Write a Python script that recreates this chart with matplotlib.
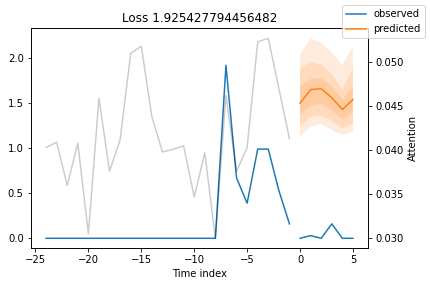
import numpy as np
import matplotlib
matplotlib.use("Agg")
import matplotlib.pyplot as plt

# encoder (history) time index and observed values
enc_x = list(range(-24, 0))
enc_obs = [0.0]*17 + [1.92, 0.67, 0.39, 0.99, 0.99, 0.53, 0.16]
# decoder (forecast) time index and observed values
dec_x = list(range(0, 6))
dec_obs = [0.0, 0.03, 0.0, 0.16, 0.0, 0.0]

# predicted quantiles
q02 = [1.13, 1.24, 1.27, 1.20, 1.15, 1.18]
q10 = [1.24, 1.35, 1.36, 1.30, 1.22, 1.27]
q25 = [1.37, 1.47, 1.49, 1.42, 1.32, 1.39]
q50 = [1.50, 1.65, 1.66, 1.56, 1.43, 1.54]
q75 = [1.68, 1.77, 1.78, 1.69, 1.54, 1.68]
q90 = [1.88, 1.96, 1.93, 1.82, 1.65, 1.88]
q98 = [2.04, 2.22, 2.17, 2.06, 1.93, 2.13]

# attention over encoder steps
attention = [0.0403, 0.0409, 0.0360, 0.0408, 0.0305, 0.0459, 0.0376, 0.0412,
             0.0510, 0.0518, 0.0438, 0.0398, 0.0401, 0.0405, 0.0347, 0.0397,
             0.0300, 0.0462, 0.0376, 0.0403, 0.0523, 0.0527, 0.0470, 0.0413]

title = "Loss 1.925427794456482"

obs_color = "#1f77b4"
pred_color = "#ff7f0e"

fig = plt.figure(figsize=(430/72, 286/72), dpi=72)
ax = fig.add_axes([30.7/430, 1 - 248.3/286, (368.3 - 30.7)/430, (248.3 - 28.3)/286])

ax.plot(enc_x, enc_obs, label="observed", c=obs_color)
ax.plot(dec_x, dec_obs, c=obs_color)
ax.plot(dec_x, q50, label="predicted", c=pred_color)
lows = [q02, q10, q25]
highs = [q98, q90, q75]
for lo, hi in zip(lows, highs):
    ax.fill_between(dec_x, lo, hi, alpha=0.15, fc=pred_color)
ax.set_title(title)
ax.set_xlabel("Time index")

ax2 = ax.twinx()
ax2.set_ylabel("Attention")
ax2.plot(enc_x, attention, alpha=0.2, color="k")

fig.legend()
fig.savefig("out.png", dpi=72)
